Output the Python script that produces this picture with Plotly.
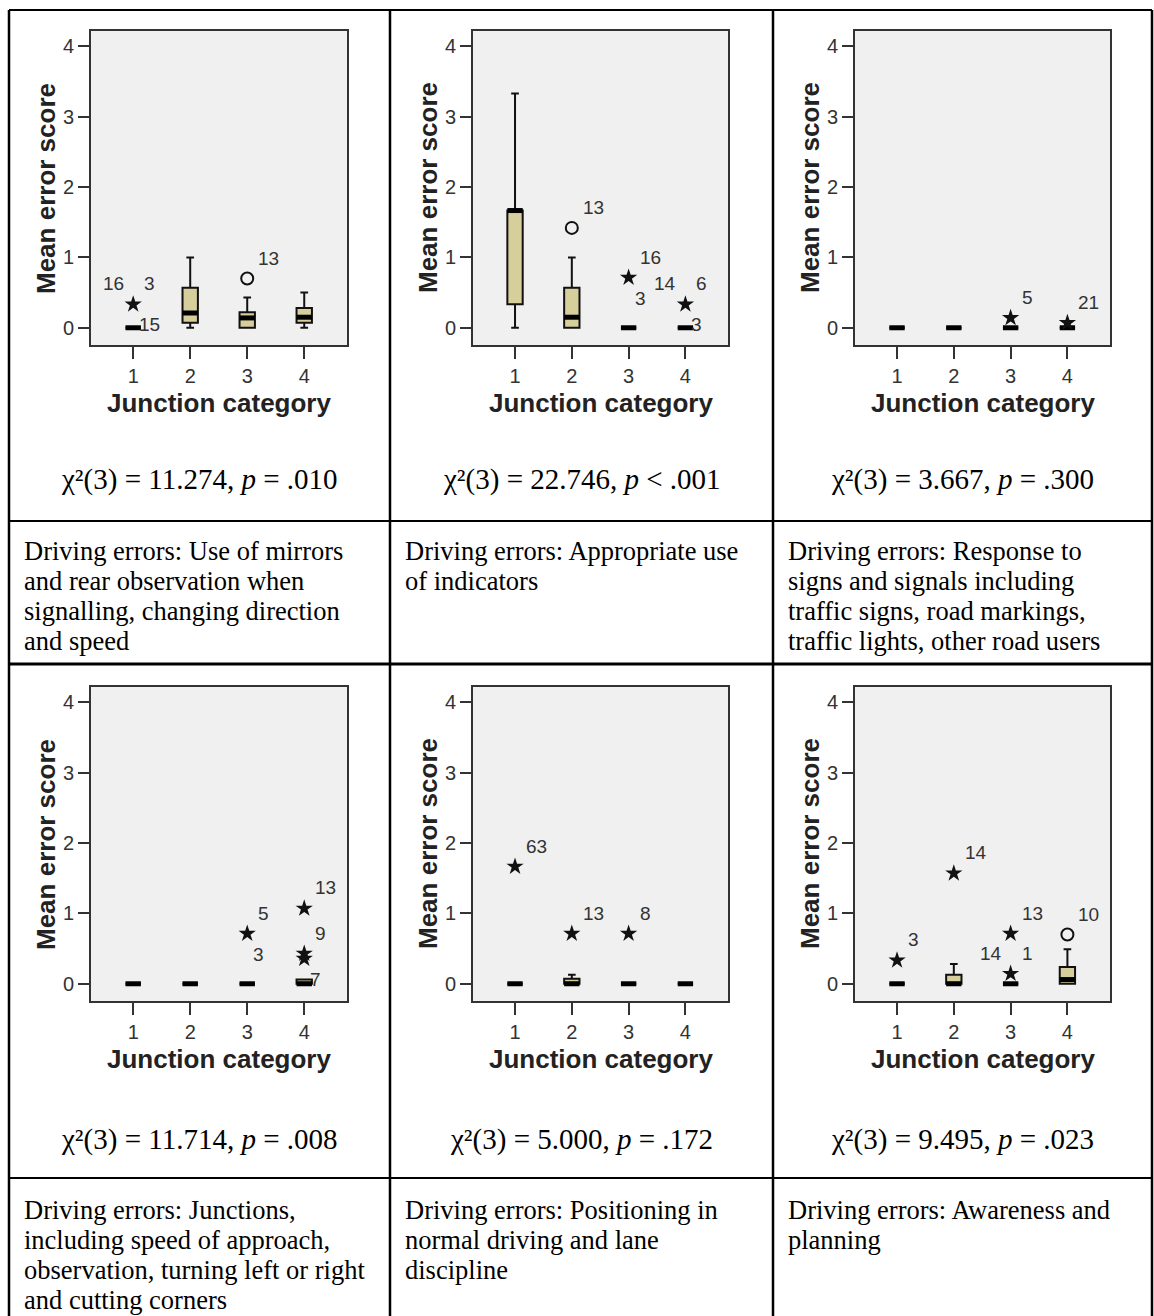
import plotly.graph_objects as go

# ---------------- data ----------------
categories = [1, 2, 3, 4]
y_ticks = [0, 1, 2, 3, 4]
x_title = "Junction category"
y_title = "Mean error score"

# box statistics, panels in reading order (row 1: col 1..3, row 2: col 1..3)
q1_vals = [
    [0, 0.07, 0, 0.07],
    [0.333, 0, 0, 0],
    [0, 0, 0, 0],
    [0, 0, 0, 0],
    [0, 0, 0, 0],
    [0, 0, 0, 0],
]
median_vals = [
    [0, 0.21, 0.14, 0.15],
    [1.667, 0.15, 0, 0],
    [0, 0, 0, 0],
    [0, 0, 0, 0],
    [0, 0, 0, 0],
    [0, 0, 0, 0.06],
]
q3_vals = [
    [0, 0.57, 0.22, 0.28],
    [1.667, 0.57, 0, 0],
    [0, 0, 0, 0],
    [0, 0, 0, 0.06],
    [0, 0.07, 0, 0],
    [0, 0.13, 0, 0.24],
]
lower_vals = [
    [0, 0, 0, 0],
    [0, 0, 0, 0],
    [0, 0, 0, 0],
    [0, 0, 0, 0],
    [0, 0, 0, 0],
    [0, 0, 0, 0],
]
upper_vals = [
    [0, 1.0, 0.43, 0.5],
    [3.333, 1.0, 0, 0],
    [0, 0, 0, 0],
    [0, 0, 0, 0.06],
    [0, 0.13, 0, 0],
    [0, 0.28, 0, 0.49],
]

# outliers: (category, value, kind, [(case label, side), ...])
outliers = [
    [(1, 0.333, "extreme", [("16", "tl"), ("3", "tr"), ("15", "br")]),
     (3, 0.70, "outlier", [("13", "tr")])],
    [(2, 1.42, "outlier", [("13", "tr")]),
     (3, 0.714, "extreme", [("16", "tr"), ("3", "br")]),
     (4, 0.333, "extreme", [("14", "tl"), ("6", "tr"), ("3", "br")])],
    [(3, 0.14, "extreme", [("5", "tr")]),
     (4, 0.07, "extreme", [("21", "tr")])],
    [(3, 0.714, "extreme", [("5", "tr"), ("3", "br")]),
     (4, 1.071, "extreme", [("13", "tr")]),
     (4, 0.43, "extreme", [("9", "tr")]),
     (4, 0.357, "extreme", [("7", "br")])],
    [(1, 1.667, "extreme", [("63", "tr")]),
     (2, 0.714, "extreme", [("13", "tr")]),
     (3, 0.714, "extreme", [("8", "tr")])],
    [(1, 0.333, "extreme", [("3", "tr")]),
     (2, 1.571, "extreme", [("14", "tr")]),
     (3, 0.714, "extreme", [("13", "tr")]),
     (3, 0.143, "extreme", [("14", "tl"), ("1", "tr")]),
     (4, 0.70, "outlier", [("10", "tr")])],
]

stats_text = [
    "χ²(3) = 11.274, <i>p</i> = .010",
    "χ²(3) = 22.746, <i>p</i> < .001",
    "χ²(3) = 3.667, <i>p</i> = .300",
    "χ²(3) = 11.714, <i>p</i> = .008",
    "χ²(3) = 5.000, <i>p</i> = .172",
    "χ²(3) = 9.495, <i>p</i> = .023",
]

descriptions = [
    ["Driving errors: Use of mirrors", "and rear observation when",
     "signalling, changing direction", "and speed"],
    ["Driving errors: Appropriate use", "of indicators"],
    ["Driving errors: Response to", "signs and signals including",
     "traffic signs, road markings,", "traffic lights, other road users"],
    ["Driving errors: Junctions,", "including speed of approach,",
     "observation, turning left or right", "and cutting corners"],
    ["Driving errors: Positioning in", "normal driving and lane",
     "discipline"],
    ["Driving errors: Awareness and", "planning"],
]

# ---------------- layout geometry (pixels) ----------------
W, H = 1154, 1316
col_lines = [9, 390, 773, 1152]
frame_left = [91, 473, 855]
frame_right = [347, 728, 1110]
frame_top = [31, 687]
frame_bottom = [345, 1001]
stats_y = [479, 1139]
desc_y0 = [551, 1210]
desc_dy = 30
row_top = [10, 664]
sep_thin = [521, 1178]

BOX_W = 0.27
SANS = "Liberation Sans, Arial, sans-serif"
SERIF = "Liberation Serif, Times New Roman, serif"


def px(x):
    return x / W


def py(y):
    return 1 - y / H


fig = go.Figure()
annotations = []
shapes = []

for i in range(6):
    r, c = divmod(i, 3)
    sfx = "" if i == 0 else str(i + 1)
    xa, ya = "x" + sfx, "y" + sfx

    fig.add_trace(go.Box(
        x=categories, q1=q1_vals[i], median=median_vals[i], q3=q3_vals[i],
        lowerfence=lower_vals[i], upperfence=upper_vals[i],
        width=BOX_W, whiskerwidth=0.5, boxpoints=False,
        fillcolor="#D6CF9C", line=dict(color="#111111", width=2),
        xaxis=xa, yaxis=ya, showlegend=False, hoverinfo="skip"))

    # thick median bars
    mx, my = [], []
    for cat, m in zip(categories, median_vals[i]):
        mx += [cat - BOX_W / 2, cat + BOX_W / 2, None]
        my += [m, m, None]
    fig.add_trace(go.Scatter(
        x=mx, y=my, mode="lines", line=dict(color="#000000", width=5),
        xaxis=xa, yaxis=ya, showlegend=False, hoverinfo="skip"))

    # outliers
    for kind, sym in (("outlier", "circle-open"), ("extreme", "star")):
        pts = [o for o in outliers[i] if o[2] == kind]
        if not pts:
            continue
        fig.add_trace(go.Scatter(
            x=[o[0] for o in pts], y=[o[1] for o in pts], mode="markers",
            marker=dict(symbol=sym, size=13 if kind == "extreme" else 12,
                        color="#111111",
                        line=dict(color="#222222", width=2 if kind == "outlier" else 0)),
            xaxis=xa, yaxis=ya, showlegend=False, hoverinfo="skip"))
        for cat, val, _, labs in pts:
            for lab, side in labs:
                xanchor = "left" if side[1] == "r" else "right"
                yanchor = "bottom" if side[0] == "t" else "top"
                if xanchor == "left":
                    xs = 9 if yanchor == "bottom" else 4
                else:
                    xs = -7
                annotations.append(dict(
                    x=cat, y=val, xref=xa, yref=ya, text=lab, showarrow=False,
                    xanchor=xanchor, yanchor=yanchor,
                    xshift=xs, yshift=8 if yanchor == "bottom" else -8,
                    font=dict(family=SANS, size=19, color="#333333")))

    fl, fr = frame_left[c], frame_right[c]
    ft, fb = frame_top[r], frame_bottom[r]
    fig.layout["xaxis" + sfx] = dict(
        domain=[px(fl), px(fr)], anchor=ya, range=[0.26, 4.75],
        tickvals=categories, ticks="outside", ticklen=12, tickwidth=2,
        tickcolor="#333333", showline=True, linecolor="#333333", linewidth=2,
        mirror=True, showgrid=False, zeroline=False,
        tickfont=dict(family=SANS, size=20, color="#333333"))
    fig.layout["yaxis" + sfx] = dict(
        domain=[py(fb), py(ft)], anchor=xa, range=[-0.245, 4.22],
        tickvals=y_ticks, ticks="outside", ticklen=11, tickwidth=2,
        tickcolor="#333333", showline=True, linecolor="#333333", linewidth=2,
        mirror=True, showgrid=False, zeroline=False,
        tickfont=dict(family=SANS, size=20, color="#333333"))

    # axis titles
    annotations.append(dict(
        x=px((fl + fr) / 2), y=py(fb + 58), xref="paper", yref="paper",
        text="<b>" + x_title + "</b>", showarrow=False,
        xanchor="center", yanchor="middle",
        font=dict(family=SANS, size=26, color="#222222")))
    annotations.append(dict(
        x=px(fl - 45), y=py((ft + fb) / 2), xref="paper", yref="paper",
        text="<b>" + y_title + "</b>", showarrow=False, textangle=-90,
        xanchor="center", yanchor="middle",
        font=dict(family=SANS, size=26, color="#222222")))

    # statistic text
    annotations.append(dict(
        x=px((col_lines[c] + col_lines[c + 1]) / 2), y=py(stats_y[r]),
        xref="paper", yref="paper", text=stats_text[i], showarrow=False,
        xanchor="center", yanchor="middle",
        font=dict(family=SERIF, size=29, color="#000000")))

    # description lines
    for k, line in enumerate(descriptions[i]):
        annotations.append(dict(
            x=px(col_lines[c] + 13), y=py(desc_y0[r] + k * desc_dy),
            xref="paper", yref="paper", text=line, showarrow=False,
            xanchor="left", yanchor="middle",
            font=dict(family=SERIF, size=26.5, color="#000000")))

# table rules
def hline(y, w):
    shapes.append(dict(type="line", xref="paper", yref="paper",
                       x0=px(col_lines[0]), x1=px(col_lines[-1]), y0=py(y), y1=py(y),
                       line=dict(color="#000000", width=w)))


def vline(x, w):
    shapes.append(dict(type="line", xref="paper", yref="paper",
                       x0=px(x), x1=px(x), y0=py(row_top[0]), y1=py(H + 2),
                       line=dict(color="#000000", width=w)))


hline(row_top[0], 2)
hline(row_top[1], 3)
for y in sep_thin:
    hline(y, 2)
for x in col_lines:
    vline(x, 2.5)

fig.update_layout(
    width=W, height=H, margin=dict(l=0, r=0, t=0, b=0),
    paper_bgcolor="#FFFFFF", plot_bgcolor="#F0F0F0",
    annotations=annotations, shapes=shapes, showlegend=False)

fig.write_html("out.html", config={"displayModeBar": False},
               post_script="document.body.style.margin='0px';document.body.style.overflow='hidden';")
